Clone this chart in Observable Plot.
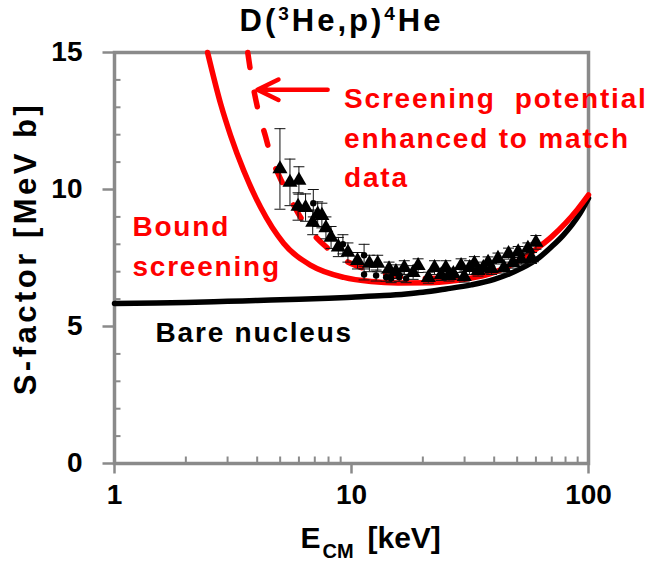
<!DOCTYPE html>
<html><head><meta charset="utf-8">
<script src="https://cdn.jsdelivr.net/npm/d3@7"></script>
<script src="https://cdn.jsdelivr.net/npm/@observablehq/plot@0.6"></script>
<style>
html,body{margin:0;padding:0;background:#fff;}
svg text{white-space:pre;}
</style></head><body>
<script>
// ---- tick values ----
const xMajorTicks = [1, 10, 100];
const xMinorTicks = [2, 3, 4, 5, 6, 7, 8, 9, 20, 30, 40, 50, 60, 70, 80, 90];
const yMajorTicks = [0, 5, 10, 15];
const yMinorTicks = [1, 2, 3, 4, 6, 7, 8, 9, 11, 12, 13, 14];

// ---- curves ----
const bareE = [1, 1.5, 2, 3, 4, 6, 8, 10, 13.7, 17, 20, 25, 32, 40, 52, 62, 70, 78, 85, 92, 100];
const bareS = [5.84, 5.86, 5.88, 5.92, 5.95, 5.99, 6.03, 6.07, 6.13, 6.19, 6.25, 6.37, 6.52, 6.72, 7.12, 7.52, 7.92, 8.32, 8.7, 9.12, 9.68];

const boundE = [2.47, 2.81, 3.09, 3.51, 4.14, 5.18, 6.74, 9.29, 12.1, 15.7, 21.7, 30, 40, 50, 60, 70, 80, 90, 100];
const boundS = [15.0, 13.1, 11.97, 10.69, 9.34, 8.03, 7.23, 6.79, 6.64, 6.59, 6.6, 6.72, 6.97, 7.37, 7.82, 8.28, 8.77, 9.28, 9.8];

const enhE = [3.65, 3.76, 4.06, 4.35, 4.57, 4.89, 5.38, 5.94, 6.7, 7.6, 9, 11, 14, 20, 30];
const enhS = [15.0, 14.25, 12.8, 11.9, 11.2, 10.6, 9.85, 9.15, 8.5, 8.0, 7.5, 7.15, 6.9, 6.75, 6.78];

// ---- measured data: triangles ----
const triE = [4.99, 5.5, 6.0, 5.95, 6.4, 6.86, 7.2, 7.5, 7.8, 8.2, 8.8, 9.66, 10.6, 11.9, 12.9, 14.4, 15.4, 16.7, 18.2, 19.1, 21.1, 22.4, 23.9, 25.0, 25.8, 26.9, 29.0, 29.9, 31.5, 33.0, 34.2, 36.0, 37.7, 39.0, 41.5, 44.0, 46.0, 48.0, 50.5, 52.0, 55.5, 57.5, 60.0];
const triS = [10.75, 10.26, 10.33, 9.38, 9.34, 8.8, 9.1, 9.05, 8.6, 8.25, 7.9, 7.7, 7.4, 7.3, 7.3, 7.1, 7.0, 7.15, 6.97, 7.22, 6.78, 7.15, 6.88, 7.15, 6.86, 6.93, 7.22, 6.82, 7.15, 7.3, 7.04, 7.15, 7.34, 7.1, 7.48, 7.15, 7.66, 7.33, 7.72, 7.45, 7.85, 7.5, 8.07];
const triErr = [1.47, 0.85, 0.5, 0.5, 0.5, 0.45, 0.45, 0.45, 0.4, 0.4, 0.35, 0.35, 0.3, 0.3, 0.3, 0.25, 0.25, 0.25, 0.25, 0.25, 0.2, 0.25, 0.2, 0.25, 0.2, 0.2, 0.25, 0.2, 0.25, 0.25, 0.2, 0.2, 0.2, 0.2, 0.2, 0.2, 0.2, 0.2, 0.2, 0.2, 0.2, 0.2, 0.25];

// ---- measured data: circles ----
const circE = [6.9, 9.2, 11.3, 11.3, 12.7, 14.0, 14.7, 15.9, 17.0];
const circS = [9.5, 8.0, 7.6, 6.9, 6.86, 6.8, 6.75, 6.8, 6.75];
const circErr = [0.5, 0.35, 0.4, 0.2, 0.2, 0.15, 0.15, 0.15, 0.15];

// ---- build tables ----
const bare = bareE.map((E, i) => ({E, S: bareS[i]}));
const bound = boundE.map((E, i) => ({E, S: boundS[i]}));
const enh = enhE.map((E, i) => ({E, S: enhS[i]}));
const tri = triE.map((E, i) => ({E, S: triS[i], err: triErr[i]}));
const circ = circE.map((E, i) => ({E, S: circS[i], err: circErr[i]}));
const pts = tri.concat(circ);
const caps = pts.flatMap(d => [{E: d.E, S: d.S - d.err}, {E: d.E, S: d.S + d.err}]);

const seg = (x1, y1, x2, y2) => ({draw(ctx) { ctx.moveTo(x1, y1); ctx.lineTo(x2, y2); }});
const GRAY = "#8a8a8a";
const RED = "#ff0000";
const FONT = "'Liberation Sans', Arial, Helvetica, sans-serif";

const chart = Plot.plot({
  width: 659, height: 562,
  marginLeft: 114, marginRight: 71, marginTop: 52, marginBottom: 99,
  x: {type: "log", domain: [1, 100], axis: null},
  y: {domain: [0, 15], axis: null},
  style: {fontFamily: FONT, background: "#fff"},
  marks: [
    Plot.frame({stroke: GRAY, strokeWidth: 3.5}),
    // ticks
    Plot.dot(xMajorTicks, {x: d => d, y: () => 0, symbol: seg(0, 0, 0, 10), stroke: GRAY, strokeWidth: 2.5, fill: "none"}),
    Plot.dot(xMinorTicks, {x: d => d, y: () => 0, symbol: seg(0, 0, 0, -7), stroke: GRAY, strokeWidth: 2, fill: "none"}),
    Plot.dot(yMajorTicks, {x: () => 1, y: d => d, symbol: seg(-12, 0, 0, 0), stroke: GRAY, strokeWidth: 2.5, fill: "none"}),
    Plot.dot(yMinorTicks, {x: () => 1, y: d => d, symbol: seg(0, 0, 6, 0), stroke: GRAY, strokeWidth: 2, fill: "none"}),
    // tick labels
    Plot.text(xMajorTicks, {x: d => d, y: () => 0, text: d => String(d), dy: 32, fontSize: 28, fontWeight: "bold", fill: "black"}),
    Plot.text(yMajorTicks, {x: () => 1, y: d => d, text: d => String(d), dx: -32, textAnchor: "end", fontSize: 28, fontWeight: "bold", fill: "black"}),
    // curves
    Plot.line(bare, {x: "E", y: "S", stroke: "black", strokeWidth: 5.5, curve: "monotone-x"}),
    Plot.line(bound, {x: "E", y: "S", stroke: RED, strokeWidth: 5.5, curve: "monotone-x"}),
    Plot.line(enh, {x: "E", y: "S", stroke: RED, strokeWidth: 5.5, curve: "monotone-x", strokeDasharray: "15,25", strokeLinecap: "round"}),
    // error bars
    Plot.ruleX(pts, {x: "E", y1: d => d.S - d.err, y2: d => d.S + d.err, stroke: "#111", strokeWidth: 1}),
    Plot.dot(caps, {x: "E", y: "S", symbol: seg(-5.5, 0, 5.5, 0), stroke: "#111", strokeWidth: 1, fill: "none"}),
    // markers
    Plot.dot(circ, {x: "E", y: "S", r: 3.2, fill: "black"}),
    Plot.dot(tri, {x: "E", y: "S", symbol: "triangle", r: 5.6, fill: "black"}),
    // arrow
    Plot.arrow([{x1: 7.93, x2: 4.01, y: 13.64}], {x1: "x1", x2: "x2", y1: "y", y2: "y", stroke: RED, strokeWidth: 4.5, headLength: 26, headAngle: 52}),
    // annotations
    Plot.text(["Screening  potential\nenhanced to match\ndata"], {x: () => 9.3, y: () => 13.98, textAnchor: "start", lineAnchor: "top", lineHeight: 1.41, fontSize: 28, fontWeight: "bold", fill: RED}),
    Plot.text(["Bound\nscreening"], {x: () => 1.19, y: () => 9.34, textAnchor: "start", lineAnchor: "top", lineHeight: 1.43, fontSize: 28, fontWeight: "bold", fill: RED}),
    Plot.text(["Bare nucleus"], {x: () => 1.49, y: () => 5.15, textAnchor: "start", lineAnchor: "top", fontSize: 28, fontWeight: "bold", fill: "black"}),
    // title
    Plot.text(["D(3He,p)4He"], {frameAnchor: "top", dx: -10, dy: -44, textAnchor: "middle", lineAnchor: "top", fontSize: 31, fontWeight: "bold", fill: "black"}),
    // axis titles
    Plot.text(["S-factor [MeV b]"], {frameAnchor: "left", dx: -88, dy: -9.5, rotate: -90, textAnchor: "middle", fontSize: 31, fontWeight: "bold", fill: "black"}),
    Plot.text(["E"], {frameAnchor: "bottom-left", dx: 186, dy: 63, textAnchor: "start", lineAnchor: "top", fontSize: 30, fontWeight: "bold", fill: "black"}),
    Plot.text(["CM"], {frameAnchor: "bottom-left", dx: 208, dy: 80, textAnchor: "start", lineAnchor: "top", fontSize: 20, fontWeight: "bold", fill: "black"}),
    Plot.text(["[keV]"], {frameAnchor: "bottom-left", dx: 253, dy: 63, textAnchor: "start", lineAnchor: "top", fontSize: 30, fontWeight: "bold", fill: "black"})
  ]
});
document.body.appendChild(chart);

// letter spacing to match the reference's wide lettering
const spacing = [["Screening", 1.8], ["Bound", 1.8], ["Bare nucleus", 1.8], ["S-factor", 3.5], ["D(3He", 3]];
chart.querySelectorAll("text").forEach(t => {
  for (const [k, v] of spacing) if (t.textContent.startsWith(k)) t.setAttribute("letter-spacing", v);
});
// title with superscript mass numbers
chart.querySelectorAll("text").forEach(t => {
  if (t.textContent !== "D(3He,p)4He") return;
  const parts = [["D(", 0, null], ["3", -11, 19], ["He,p)", 11, null], ["4", -11, 19], ["He", 11, null]];
  const ns = "http://www.w3.org/2000/svg";
  t.textContent = "";
  for (const [s, dy, fs] of parts) {
    const ts = document.createElementNS(ns, "tspan");
    ts.textContent = s;
    if (dy) ts.setAttribute("dy", dy);
    if (fs) ts.setAttribute("font-size", fs);
    t.appendChild(ts);
  }
});
</script>
</body></html>
